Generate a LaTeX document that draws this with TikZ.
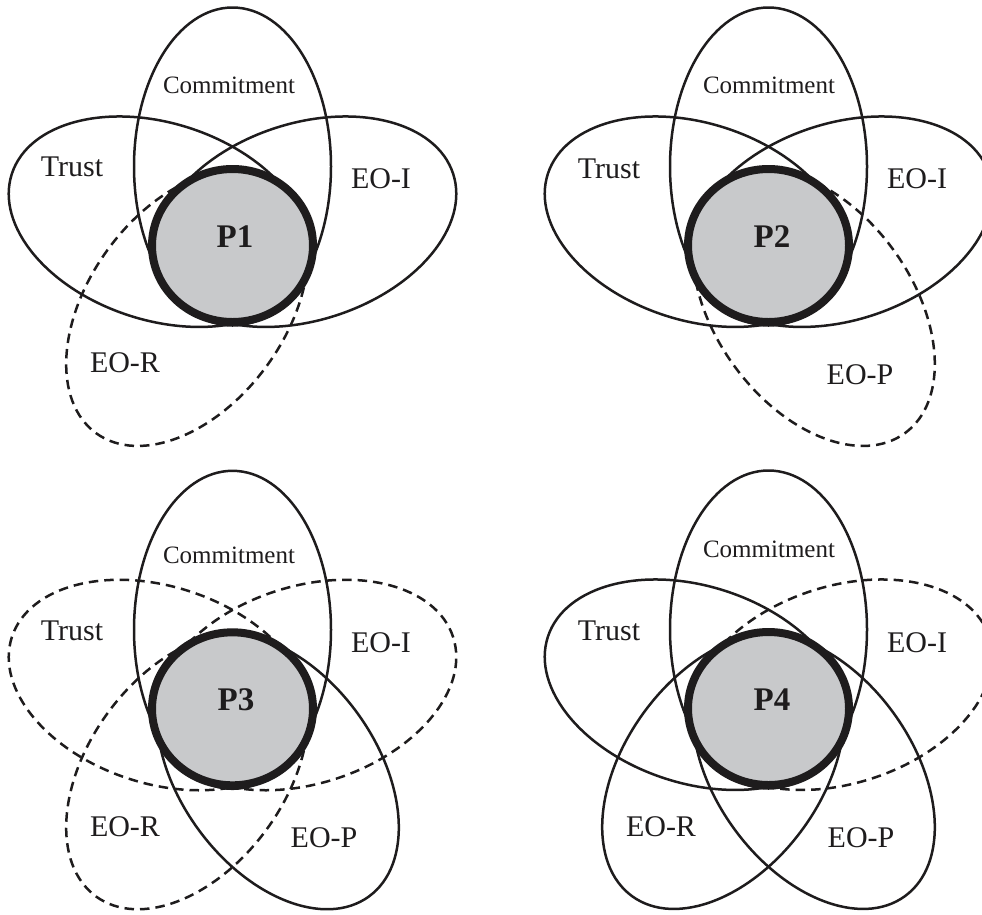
\documentclass[tikz,border=0pt]{standalone}
\usepackage{fontspec}
\setmainfont{Liberation Serif}
\definecolor{ink}{RGB}{30,28,29}
\definecolor{coregray}{RGB}{200,201,203}
\tikzset{
  petal/.style={draw=ink, line width=2.5pt},
  dpetal/.style={petal, dash pattern=on 9.5pt off 6pt},
  corecircle/.style={draw=ink, fill=coregray, line width=8pt},
  lbl/.style={inner sep=0pt, text=ink, font=\fontsize{30}{36}\selectfont},
  clbl/.style={inner sep=0pt, text=ink, font=\fontsize{25}{30}\selectfont},
  plbl/.style={inner sep=0pt, text=ink, font=\fontsize{33}{40}\selectfont\bfseries},
}
% #1 centre, #2 angle, #3 style, #4 offset, #5 semi-major
\newcommand{\drawpetal}[5]{\draw[#3, shift={(#1)}, rotate=#2] (#4pt,0pt) ellipse [x radius=#5pt, y radius=98.5pt];}
\newcommand{\drawcore}[1]{\draw[corecircle] (#1) ellipse [x radius=80.5pt, y radius=76.5pt];}
\begin{document}
\begin{tikzpicture}[x=1pt, y=-1pt]
\useasboundingbox (0,0) rectangle (982,914);
\clip (0,0) rectangle (982,914);
\coordinate (c1) at (232.5,245.5);
\coordinate (c2) at (768.5,245.5);
\coordinate (c3) at (232.5,708.8);
\coordinate (c4) at (768.5,708.5);

% Panel 1
\drawpetal{c1}{90}{petal}{79}{159}
\drawpetal{c1}{162}{petal}{77}{155}
\drawpetal{c1}{18}{petal}{77}{155}
\drawpetal{c1}{234}{dpetal}{77}{155}
\drawcore{c1}
\node[clbl] (com1) at (229,85) {Commitment};
\node[lbl] (tru1) at (72,167) {Trust};
\node[lbl] (eoi1) at (381,179) {EO-I};
\node[lbl] (eor1) at (125,363) {EO-R};
\node[plbl] (p1) at (235,237) {P1};

% Panel 2
\drawpetal{c2}{90}{petal}{79}{159}
\drawpetal{c2}{162}{petal}{77}{155}
\drawpetal{c2}{18}{petal}{77}{155}
\drawpetal{c2}{306}{dpetal}{77}{155}
\drawcore{c2}
\node[clbl] (com2) at (769,85) {Commitment};
\node[lbl] (tru2) at (609,169) {Trust};
\node[lbl] (eoi2) at (917,179) {EO-I};
\node[lbl] (eop2) at (860,375) {EO-P};
\node[plbl] (p2) at (772,237) {P2};

% Panel 3
\drawpetal{c3}{90}{petal}{79}{159}
\drawpetal{c3}{162}{dpetal}{77}{155}
\drawpetal{c3}{18}{dpetal}{77}{155}
\drawpetal{c3}{234}{dpetal}{77}{155}
\drawpetal{c3}{306}{petal}{77}{155}
\drawcore{c3}
\node[clbl] (com3) at (229,555) {Commitment};
\node[lbl] (tru3) at (72,631) {Trust};
\node[lbl] (eoi3) at (381,643) {EO-I};
\node[lbl] (eor3) at (125,827) {EO-R};
\node[lbl] (eop3) at (324,838) {EO-P};
\node[plbl] (p3) at (236,700) {P3};

% Panel 4
\drawpetal{c4}{90}{petal}{79}{159}
\drawpetal{c4}{162}{petal}{77}{155}
\drawpetal{c4}{18}{dpetal}{77}{155}
\drawpetal{c4}{234}{petal}{77}{155}
\drawpetal{c4}{306}{petal}{77}{155}
\drawcore{c4}
\node[clbl] (com4) at (769,549) {Commitment};
\node[lbl] (tru4) at (609,631) {Trust};
\node[lbl] (eoi4) at (917,643) {EO-I};
\node[lbl] (eor4) at (661,827) {EO-R};
\node[lbl] (eop4) at (861,838) {EO-P};
\node[plbl] (p4) at (772,700) {P4};
\end{tikzpicture}
\end{document}
